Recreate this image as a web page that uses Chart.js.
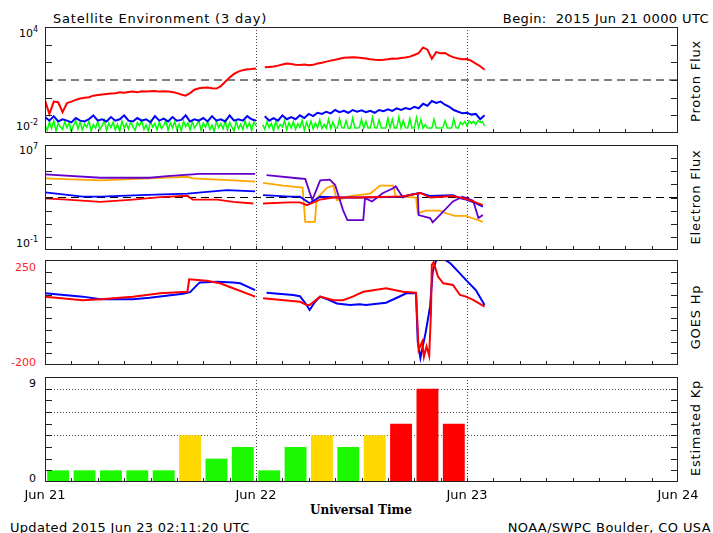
<!DOCTYPE html>
<html>
<head>
<meta charset="utf-8">
<script src="https://cdn.jsdelivr.net/npm/chart.js@4.4.0/dist/chart.umd.min.js"></script>
<style>
  body { margin: 0; background: #fff; width: 713px; height: 533px; position: relative; overflow: hidden;
         font-family: "DejaVu Sans", sans-serif; font-size: 13px; color: #000; }
  canvas { position: absolute; left: 0; }
  .t { position: absolute; white-space: nowrap; line-height: 1; transform: translateY(-50%); }
  .r { transform: translate(-100%, -50%); }
  .c { transform: translate(-50%, -50%); }
  .v { transform: translate(-50%, -50%) rotate(-90deg); letter-spacing: 0.8px; }
  .yl { font-size: 11px; }
  .yl sup { font-size: 8px; vertical-align: 5px; }
  .red { color: #ff2020; }
</style>
</head>
<body>
<div class="t" style="left:53px;top:18px;letter-spacing:0.8px">Satellite Environment (3 day)</div>
<div class="t r" style="left:709px;top:18px;letter-spacing:0.4px">Begin:&nbsp; 2015 Jun 21 0000 UTC</div>

<div class="t r yl" style="left:38px;top:32px">10<sup>4</sup></div>
<div class="t r yl" style="left:38px;top:125px">10<sup>-2</sup></div>
<div class="t r yl" style="left:38px;top:149px">10<sup>7</sup></div>
<div class="t r yl" style="left:38px;top:242px">10<sup>-1</sup></div>
<div class="t r yl red" style="left:36px;top:267px">250</div>
<div class="t r yl red" style="left:36px;top:362px">-200</div>
<div class="t r yl" style="left:36px;top:383px">9</div>
<div class="t r yl" style="left:36px;top:478px">0</div>

<div class="t v" style="left:695px;top:81px">Proton Flux</div>
<div class="t v" style="left:695px;top:197px">Electron Flux</div>
<div class="t v" style="left:695px;top:317px">GOES Hp</div>
<div class="t v" style="left:695px;top:428px">Estimated Kp</div>

<div class="t c" style="left:361px;top:510px;font-family:'DejaVu Serif',serif;font-weight:bold;font-size:12px">Universal Time</div>
<div class="t" style="left:10px;top:527px;letter-spacing:0.3px">Updated 2015 Jun 23 02:11:20 UTC</div>
<div class="t r" style="left:711px;top:527px;letter-spacing:0.4px">NOAA/SWPC Boulder, CO USA</div>

<canvas id="proton"></canvas>
<canvas id="electron"></canvas>
<canvas id="hp"></canvas>
<canvas id="kp"></canvas>

<script>
// time axis: hours since 2015 Jun 21 00:00 UTC
const dayLabels = ['Jun 21', 'Jun 22', 'Jun 23', 'Jun 24'];
const hourTicks = [3, 6, 9, 12, 15, 18, 21, 24, 27, 30, 33, 36, 39, 42, 45, 48, 51, 54, 57, 60, 63, 66, 69];
const dayLines = [24, 48];

// proton flux (pfu); >=10 and >=50 MeV every half hour, >=100 MeV every quarter hour
const protonStep = 0.5;
const proton10 = [
  0.7, 0.12, 0.6, 0.55, 0.15, 0.5, 0.6, 0.75, 0.9, 1.0,
  1.05, 1.3, 1.4, 1.5, 1.6, 1.7, 1.8, 2.0, 1.9, 2.1,
  2.2, 2.0, 2.3, 2.2, 2.3, 2.4, 2.2, 2.3, 2.2, 2.1,
  1.8, 1.5, 1.3, 1.8, 2.8, 3.4, 3.6, 3.8, 3.4, 3.3,
  4.5, 8, 14, 22, 30, 36, 40, 42, 45, null,
  52, 55, 58, 65, 75, 85, 80, 72, 70, 75,
  68, 72, 85, 95, 110, 125, 140, 160, 180, 190,
  195, 185, 175, 165, 150, 140, 135, 140, 150, 165,
  160, 175, 190, 210, 260, 330, 700, 520, 160, 380,
  330, 340, 240, 190, 165, 150, 155, 120, 85, 60, 38
];
const proton50 = [
  0.08, 0.05, 0.09, 0.045, 0.06, 0.05, 0.04, 0.07, 0.05, 0.045,
  0.06, 0.1, 0.05, 0.06, 0.045, 0.08, 0.05, 0.06, 0.1, 0.05,
  0.045, 0.07, 0.05, 0.06, 0.04, 0.09, 0.05, 0.065, 0.045, 0.08,
  0.05, 0.055, 0.1, 0.045, 0.06, 0.05, 0.07, 0.045, 0.09, 0.05,
  0.06, 0.045, 0.1, 0.05, 0.06, 0.05, 0.09, 0.06, 0.05, null,
  0.09, 0.05, 0.07, 0.05, 0.1, 0.06, 0.08, 0.06, 0.1, 0.07,
  0.12, 0.09, 0.14, 0.12, 0.16, 0.13, 0.2, 0.15, 0.18, 0.14,
  0.2, 0.16, 0.19, 0.15, 0.18, 0.14, 0.2, 0.17, 0.22, 0.18,
  0.25, 0.2, 0.26, 0.22, 0.3, 0.25, 0.45, 0.35, 0.65, 0.5,
  0.6, 0.4, 0.3, 0.2, 0.16, 0.13, 0.14, 0.11, 0.12, 0.06, 0.1
];
const proton100Step = 0.25;
const proton100 = [
  0.03, 0.014, 0.042, 0.018, 0.05, 0.013, 0.035, 0.022, 0.016, 0.045,
  0.02, 0.038, 0.012, 0.028, 0.05, 0.017, 0.04, 0.015, 0.033, 0.021,
  0.047, 0.013, 0.03, 0.019, 0.043, 0.016, 0.026, 0.052, 0.014, 0.036,
  0.02, 0.041, 0.015, 0.031, 0.012, 0.048, 0.019, 0.034, 0.017, 0.044,
  0.022, 0.014, 0.039, 0.026, 0.051, 0.016, 0.029, 0.013, 0.046, 0.021,
  0.035, 0.015, 0.042, 0.018, 0.027, 0.05, 0.014, 0.037, 0.02, 0.045,
  0.016, 0.032, 0.013, 0.048, 0.023, 0.038, 0.015, 0.043, 0.019, 0.03,
  0.052, 0.014, 0.036, 0.021, 0.044, 0.016, 0.028, 0.012, 0.047, 0.02,
  0.034, 0.017, 0.05, 0.015, 0.04, 0.022, 0.013, 0.045, 0.018, 0.031,
  0.016, 0.049, 0.02, 0.037, 0.014, 0.042, 0.025, null, null, 0.03,
  0.016, 0.044, 0.02, 0.035, 0.013, 0.048, 0.018, 0.03, 0.022, 0.05,
  0.015, 0.038, 0.019, 0.045, 0.016, 0.033, 0.021, 0.052, 0.014, 0.04,
  0.019, 0.047, 0.017, 0.036, 0.02, 0.055, 0.018, 0.03, 0.019, 0.06,
  0.018, 0.042, 0.019, 0.019, 0.065, 0.02, 0.019, 0.05, 0.018, 0.019,
  0.07, 0.019, 0.019, 0.02, 0.06, 0.019, 0.045, 0.019, 0.019, 0.075,
  0.02, 0.019, 0.055, 0.019, 0.019, 0.019, 0.07, 0.02, 0.06, 0.019,
  0.019, 0.08, 0.019, 0.05, 0.02, 0.019, 0.065, 0.019, 0.019, 0.075,
  0.02, 0.055, 0.019, 0.03, 0.019, 0.019, 0.019, 0.06, 0.019, 0.019,
  0.019, 0.02, 0.05, 0.019, 0.019, 0.019, 0.065, 0.02, 0.019, 0.04,
  0.03, 0.045, 0.025, 0.05, 0.035, 0.045, 0.03, 0.05, 0.04, 0.045, 0.025
];
const protonThreshold = 10;
const protonDecades = [0.1, 1, 10, 100, 1000];

// electron flux (pfu)
const elecPurpleHours = [0, 6.3, 11.9, 13.9, 17.6, 23.9, 24.4, 25.2, 29.0, 29.6, 30.4, 31.3, 32.4, 33.0, 33.9, 34.4, 36.2,
  36.4, 37.2, 38.4, 39.6, 39.9, 40.7, 41.5, 42.4, 42.5, 43.8, 44.1, 44.9, 46.4, 47.5, 48.7, 49.3, 49.8];
const elecPurple = [58000, 32000, 32000, 42000, 62000, 62000, null, 51000, 28000, 26000, 630, 20000, 23000, 8900, 110, 19, 19,
  900, 500, 2100, 5000, 7000, 1000, 1600, 2100, 46, 27, 13, 46, 500, 1150, 560, 27, 46];
const elecOrangeHours = [0, 6.3, 11.9, 16.2, 16.8, 21.4, 23.9, 24.4, 24.8, 27.1, 29.3, 29.6, 30.7, 30.9, 32.1, 32.8, 33.2,
  34.7, 37.0, 38.1, 39.6, 39.9, 42.2, 42.4, 43.3, 44.9, 45.6, 46.6, 47.9, 48.7, 49.8];
const elecOrange = [29000, 20000, 29000, 38000, 29000, 20000, 16000, null, 13000, 8000, 5600, 14, 14, 850, 5600, 8000, 630,
  1260, 2000, 8000, 8000, 1260, 1000, 63, 100, 100, 63, 40, 40, 25, 14];
const elecBlueHours = [0, 4.3, 6.3, 10.8, 16.2, 20.7, 23.9, 24.4, 24.8, 27.9, 29.0, 30.1, 31.3, 33.6, 35.8, 40.4, 42.7,
  43.8, 46.4, 47.2, 47.9, 49.0, 49.8];
const elecBlue = [2450, 1150, 1150, 1500, 2000, 3600, 2900, null, 1500, 1150, 1150, 370, 1150, 1000, 1000, 1100, 2200,
  1300, 1500, 900, 700, 370, 200];
const elecRedHours = [0, 2.5, 6.3, 10.0, 13.1, 16.2, 16.8, 19.6, 21.4, 23.7, 24.4, 24.8, 27.9, 29.0, 29.8, 31.3, 32.8,
  35.8, 40.7, 42.7, 43.8, 46.4, 47.5, 48.7, 49.8];
const elecRed = [850, 700, 470, 700, 1050, 1350, 700, 700, 470, 350, null, 350, 420, 420, 260, 700, 1000,
  1000, 1200, 2200, 1000, 1300, 900, 500, 260];
const electronThreshold = 1000;
const electronDecades = [1, 10, 100, 1000, 10000, 100000, 1000000];

// GOES Hp (nT)
const hpBlueHours = [0, 4.3, 6.3, 10.0, 11.9, 15.7, 16.5, 17.6, 19.6, 21.4, 22.2, 23.9, 24.4, 25.2, 28.2, 29.0, 29.7, 30.1,
  30.7, 31.3, 32.2, 33.2, 34.7, 35.8, 36.5, 38.8, 39.9, 41.1, 42.2, 42.4, 42.7, 43.3, 43.8, 44.1, 44.5, 45.5, 46.1,
  47.0, 47.9, 49.0, 50.0];
const hpBlue = [107, 93, 82, 82, 88, 105, 112, 154, 157, 154, 150, 121, null, 110, 100, 95, 60, 36,
  70, 93, 80, 64, 57, 60, 57, 67, 86, 107, 107, -100, -170, -60, 50, 200, 250, 250, 236,
  200, 164, 121, 57];
const hpRedHours = [0, 4.3, 6.3, 10.0, 13.1, 16.2, 16.4, 18.4, 19.9, 21.4, 23.9, 24.4, 24.8, 29.0, 29.8, 30.1, 31.3, 32.8,
  33.9, 35.0, 36.2, 38.8, 40.7, 42.2, 42.5, 42.9, 43.1, 43.4, 43.7, 43.9, 44.0, 44.2, 44.7, 45.3, 46.4, 47.2, 47.9,
  48.7, 50.0];
const hpRed = [93, 78, 82, 93, 107, 114, 167, 161, 150, 129, 93, null, 86, 71, 57, 57, 93, 78,
  78, 93, 114, 129, 114, 110, -136, -100, -165, -120, -160, 23, 229, 240, 179, 150, 143, 100, 93,
  79, 50];
const hpTicks = [200, 150, 100, 50, 0, -50, -100, -150];

// estimated Kp, 3-hour bins (bin centres)
const kpHours = [1.5, 4.5, 7.5, 10.5, 13.5, 16.5, 19.5, 22.5, 25.5, 28.5, 31.5, 34.5, 37.5, 40.5, 43.5, 46.5];
const kpValues = [1, 1, 1, 1, 1, 4, 2, 3, 1, 3, 4, 3, 4, 5, 8, 5];
const kpTicks = [1, 2, 3, 4, 5, 6, 7, 8];
const kpGuides = [4, 6, 8];

function pairs(hours, values) {
  return hours.map((h, i) => ({ x: h, y: values[i] }));
}
function stepped(step, values) {
  return values.map((v, i) => ({ x: i * step, y: v }));
}
function lineSet(data, color, width) {
  return { data, borderColor: color, borderWidth: width, pointRadius: 0, tension: 0, spanGaps: false, fill: false };
}
function thresholdSet(value) {
  return { data: [{ x: 0, y: value }, { x: 72, y: value }], borderColor: '#000', borderWidth: 1,
           borderDash: [8, 5], pointRadius: 0, fill: false };
}
function kpColor(v) {
  return v >= 5 ? '#ff0000' : v >= 4 ? '#ffd800' : '#1cf800';
}

// frame, inward ticks, dotted day lines and guide lines
const framePlugin = {
  id: 'frame',
  beforeDatasetsDraw(chart, args, o) {
    const { ctx, chartArea: a, scales: { x, y } } = chart;
    ctx.save();
    ctx.lineWidth = 1;
    ctx.setLineDash([1, 2]);
    ctx.strokeStyle = '#444';
    ctx.beginPath();
    dayLines.forEach(h => {
      const px = Math.round(x.getPixelForValue(h)) + 0.5;
      ctx.moveTo(px, a.top); ctx.lineTo(px, a.bottom);
    });
    (o.guides || []).forEach(v => {
      const py = Math.round(y.getPixelForValue(v)) + 0.5;
      ctx.moveTo(a.left, py); ctx.lineTo(a.right, py);
    });
    ctx.stroke();
    ctx.restore();
  },
  afterDatasetsDraw(chart, args, o) {
    const { ctx, chartArea: a, scales: { x, y } } = chart;
    ctx.save();
    ctx.strokeStyle = '#222';
    ctx.lineWidth = 1;
    ctx.beginPath();
    hourTicks.forEach(h => {
      const px = Math.round(x.getPixelForValue(h)) + 0.5;
      ctx.moveTo(px, a.bottom); ctx.lineTo(px, a.bottom - 4);
    });
    (o.yTicks || []).forEach(v => {
      const py = Math.round(y.getPixelForValue(v)) + 0.5;
      ctx.moveTo(a.left, py); ctx.lineTo(a.left + 7, py);
      ctx.moveTo(a.right, py); ctx.lineTo(a.right - 7, py);
    });
    ctx.stroke();
    ctx.strokeRect(Math.round(a.left) + 0.5, Math.round(a.top) + 0.5,
                   Math.round(a.right - a.left) - 1, Math.round(a.bottom - a.top) - 1);
    ctx.restore();
  }
};

const hiddenX = { type: 'linear', min: 0, max: 72, offset: false, display: false };

function panel(id, top, height, below) {
  const c = document.getElementById(id);
  c.width = 713;
  c.height = height + 4 + below;
  c.style.top = (top - 4) + 'px';
  return c;
}

function options(yScale, frame, xScale) {
  return {
    responsive: false,
    animation: false,
    events: [],
    layout: { padding: { left: 45, right: 35, top: 4, bottom: xScale ? 0 : 4 } },
    plugins: { legend: { display: false }, tooltip: { enabled: false }, frame },
    scales: { x: xScale || hiddenX, y: yScale }
  };
}

new Chart(panel('proton', 27, 106, 4), {
  type: 'line',
  data: {
    datasets: [
      lineSet(stepped(protonStep, proton10), '#ff0000', 2),
      lineSet(stepped(protonStep, proton50), '#0000ff', 2),
      lineSet(stepped(proton100Step, proton100), '#00ff00', 1.5),
      thresholdSet(protonThreshold)
    ]
  },
  options: options({ type: 'logarithmic', min: 0.01, max: 10000, display: false }, { yTicks: protonDecades }),
  plugins: [framePlugin]
});

new Chart(panel('electron', 145, 105, 4), {
  type: 'line',
  data: {
    datasets: [
      lineSet(pairs(elecRedHours, elecRed), '#ff0000', 1.8),
      lineSet(pairs(elecBlueHours, elecBlue), '#0000ff', 1.8),
      lineSet(pairs(elecPurpleHours, elecPurple), '#6600cc', 1.8),
      lineSet(pairs(elecOrangeHours, elecOrange), '#ffa500', 1.8),
      thresholdSet(electronThreshold)
    ]
  },
  options: options({ type: 'logarithmic', min: 0.1, max: 10000000, display: false }, { yTicks: electronDecades }),
  plugins: [framePlugin]
});

new Chart(panel('hp', 260, 105, 4), {
  type: 'line',
  data: {
    datasets: [
      lineSet(pairs(hpRedHours, hpRed), '#ff0000', 2),
      lineSet(pairs(hpBlueHours, hpBlue), '#0000ff', 2)
    ]
  },
  options: options({ type: 'linear', min: -200, max: 250, display: false }, { yTicks: hpTicks }),
  plugins: [framePlugin]
});

new Chart(panel('kp', 377, 105, 20), {
  type: 'bar',
  data: {
    datasets: [{
      data: pairs(kpHours, kpValues),
      backgroundColor: kpValues.map(kpColor),
      borderWidth: 0,
      barPercentage: 1,
      categoryPercentage: 0.83
    }]
  },
  options: options(
    { type: 'linear', min: 0, max: 9, display: false },
    { yTicks: kpTicks, guides: kpGuides },
    {
      type: 'linear', min: 0, max: 72, offset: false, position: 'bottom',
      grid: { display: false, drawTicks: false },
      border: { display: false },
      ticks: {
        stepSize: 24, autoSkip: false, maxRotation: 0, padding: 6, color: '#000',
        font: { family: 'DejaVu Sans', size: 13 },
        callback: v => dayLabels[v / 24]
      },
      afterFit: s => { s.height = 20; }
    }
  ),
  plugins: [framePlugin]
});
</script>
</body>
</html>
